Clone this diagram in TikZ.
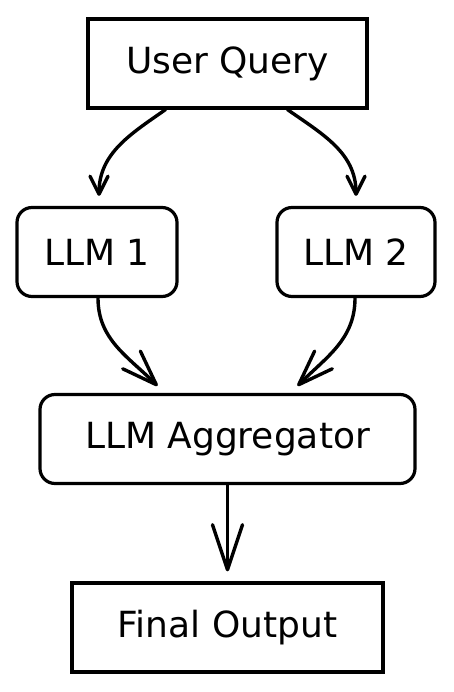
\documentclass[tikz,border=0pt]{standalone}
\usepackage{fontspec}
\setmainfont{DejaVu Sans}
\usetikzlibrary{positioning, arrows.meta}

\begin{document}
\begin{tikzpicture}[x=1pt, y=1pt, line width=3.2pt, line cap=round,
    every node/.style={align=center, draw, line width=3.2pt, font=\fontsize{36}{42}\selectfont},
    box/.style={minimum height=89pt},
    rbox/.style={minimum height=89pt, rounded corners=15pt},
    link/.style={line width=3.4pt}]
    \useasboundingbox (0,0) rectangle (454,-692);

    \node (uq) [box, minimum width=279pt] at (227.5,-63.5) {User Query};
    \node (llm1) [rbox, minimum width=160pt] at (97,-252) {LLM 1};
    \node (llm2) [rbox, minimum width=158pt] at (356,-252) {LLM 2};
    \node (agg) [rbox, minimum width=375pt] at (227.5,-439) {LLM Aggregator};
    \node (final) [box, minimum width=311pt] at (227.5,-627.5) {Final Output};

    \draw[link, -{Straight Barb[length=18pt, width=18pt, round]}] ([xshift=-62pt]uq.south) to[out=215, in=90] ([xshift=2pt, yshift=10pt]llm1.north);
    \draw[link, -{Straight Barb[length=18pt, width=18pt, round]}] ([xshift=60pt]uq.south) to[out=-35, in=90] ([yshift=10pt]llm2.north);

    \draw[link, -{Straight Barb[length=35pt, width=25pt, round]}] ([xshift=1pt]llm1.south) to[out=270, in=135] ([xshift=-70pt, yshift=7pt]agg.north);
    \draw[link, -{Straight Barb[length=35pt, width=25pt, round]}] ([xshift=-1pt]llm2.south) to[out=270, in=45] ([xshift=70pt, yshift=7pt]agg.north);

    \draw[link, -{Straight Barb[length=45pt, width=30pt, round]}] (agg) -- ([yshift=10pt]final.north);
\end{tikzpicture}
\end{document}
